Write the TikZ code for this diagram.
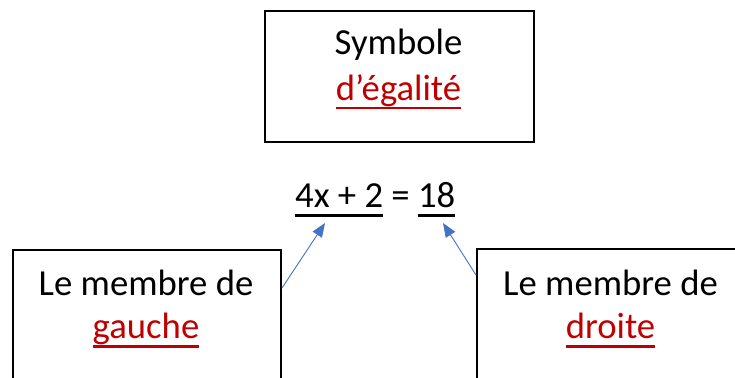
\documentclass[tikz,border=0pt]{standalone}
\usepackage{fontspec}
\setmainfont{Carlito}
\usetikzlibrary{arrows.meta}
\definecolor{wred}{HTML}{C00000}
\definecolor{wblue}{HTML}{4472C4}
\newcommand\ulx[1]{\setbox0\hbox{#1}\rlap{\rule[-9.5pt]{\wd0}{2.6pt}}\box0\relax}
\tikzset{
  box/.style={draw=black, line width=2pt, fill=none, inner sep=0pt, anchor=north west},
  txt/.style={anchor=base, inner sep=0pt, font=\fontsize{36.7}{44}\selectfont},
  arr/.style={draw=wblue, line width=0.9pt, -{Triangle[length=14pt,width=11pt]}}
}
\begin{document}
\begin{tikzpicture}[x=1pt,y=-1pt]
\useasboundingbox (0,0) rectangle (735,377);
\clip (0,0) rectangle (735,377);
% boxes
\node[box, minimum width=269pt, minimum height=131pt] (tb) at (264,10) {};
\node[box, minimum width=268pt, minimum height=150pt] (lb) at (12,249) {};
\node[box, minimum width=268pt, minimum height=150pt] (rb) at (476,248) {};
% texts
\node[txt] (t1) at (398.5,55) {Symbole};
\node[txt, text=wred] (t2) at (398.5,100) {\ulx{d’égalité}};
\node[txt] (l1) at (146,295) {Le membre de};
\node[txt, text=wred] (l2) at (146,338) {\ulx{gauche}};
\node[txt] (r1) at (610.5,295) {Le membre de};
\node[txt, text=wred] (r2) at (610.5,338) {\ulx{droite}};
\node[txt, anchor=base west] (eq) at (295,207) {\ulx{4x + 2} = \ulx{18}};
% arrow tips
\coordinate (lt) at (325,223);
\coordinate (rt) at (443,223);
\draw[arr] ([yshift=-39pt]lb.north east) -- (lt);
\draw[arr] ([yshift=-27pt]rb.north west) -- (rt);
\end{tikzpicture}
\end{document}
